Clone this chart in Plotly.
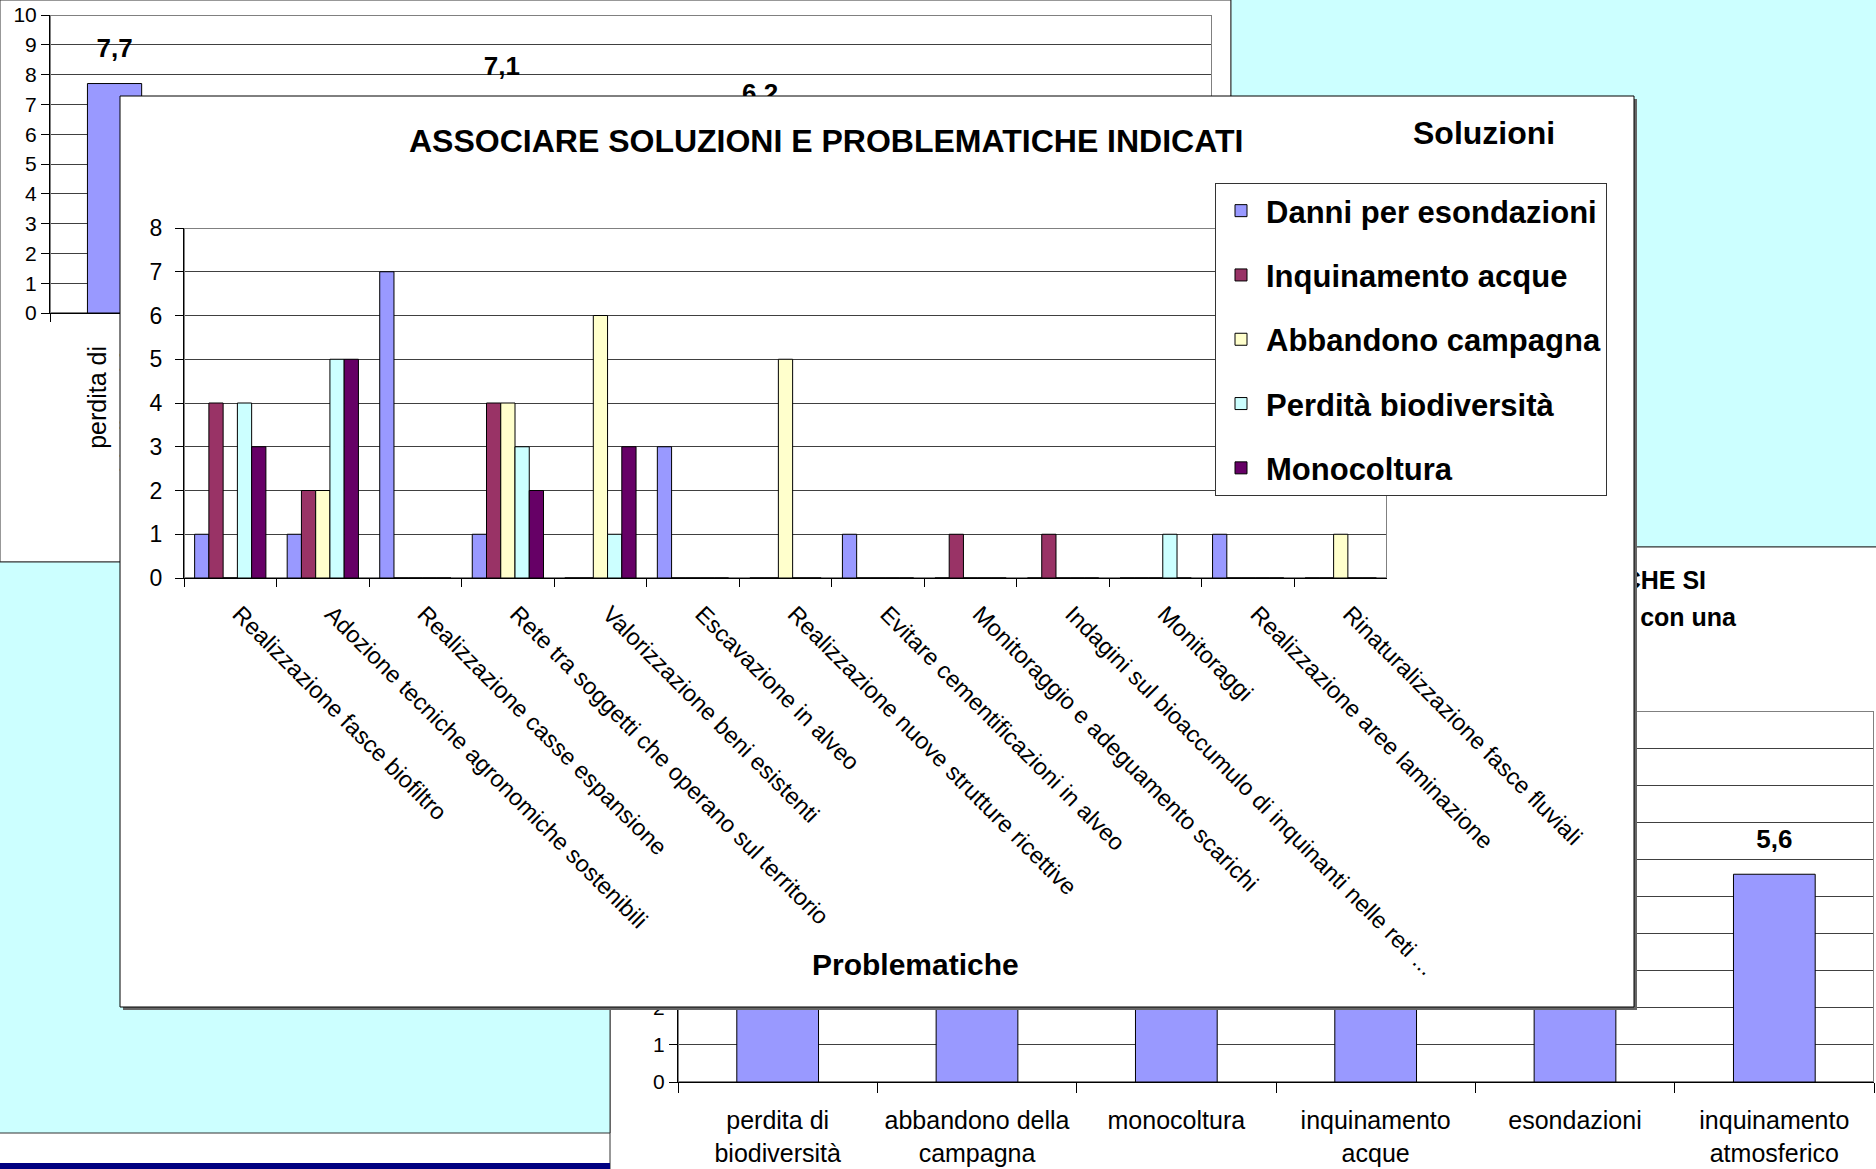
import plotly.graph_objects as go

W, H = 1876, 1169
FONT = "Liberation Sans, Arial, sans-serif"


def fx(x):
    return x / W


def fy(y):
    return 1 - y / H


# ---------------- main chart data ----------------
categories = [
    "Realizzazione fasce biofiltro",
    "Adozione tecniche agronomiche sostenibili",
    "Realizzazione casse espansione",
    "Rete tra soggetti che operano sul territorio",
    "Valorizzazione beni esistenti",
    "Escavazione in alveo",
    "Realizzazione nuove strutture ricettive",
    "Evitare cementificazioni in alveo",
    "Monitoraggio e adeguamento scarichi",
    "Indagini sul bioaccumulo di inquinanti nelle reti ...",
    "Monitoraggi",
    "Realizzazione aree laminazione",
    "Rinaturalizzazione fasce fluviali",
]
series_names = [
    "Danni per esondazioni",
    "Inquinamento acque",
    "Abbandono campagna",
    "Perdità biodiversità",
    "Monocoltura",
]
danni = [1, 1, 7, 1, 0, 3, 0, 1, 0, 0, 0, 1, 0]
inquinamento = [4, 2, 0, 4, 0, 0, 0, 0, 1, 1, 0, 0, 0]
abbandono = [0, 2, 0, 4, 6, 0, 5, 0, 0, 0, 0, 0, 1]
perdita = [4, 5, 0, 3, 1, 0, 0, 0, 0, 0, 1, 0, 0]
monocoltura = [3, 5, 0, 2, 3, 0, 0, 0, 0, 0, 0, 0, 0]
series_values = [danni, inquinamento, abbandono, perdita, monocoltura]
colors = ["#9999FF", "#993366", "#FFFFCC", "#CCFFFF", "#660066"]

# ---------------- background chart (top-left, mostly hidden) ----------------
tl_categories = [
    "perdita di<br>biodiversità",
    "abbandono della<br>campagna",
    "monocoltura",
    "inquinamento<br>acque",
    "esondazioni",
    "inquinamento<br>atmosferico",
    "cementificazione",
    "traffico",
    "rifiuti",
]
tl_values = [7.7, 3.8, 3.4, 7.1, 3.6, 6.2, 3.1, 2.8, 2.5]

# ---------------- background chart (bottom-right, partly hidden) ----------------
br_categories = [
    "perdita di<br>biodiversità",
    "abbandono della<br>campagna",
    "monocoltura",
    "inquinamento<br>acque",
    "esondazioni",
    "inquinamento<br>atmosferico",
]
br_values = [6.8, 6.3, 6.0, 6.9, 6.5, 5.6]
br_title_lines = ["QUALI SONO LE PROBLEMATICHE CHE SI", "RISCONTRANO? Rispondere con una"]

fig = go.Figure()

# top-left background chart
fig.add_trace(go.Bar(
    x=tl_categories, y=tl_values, width=0.42,
    marker=dict(color="#9999FF", line=dict(color="black", width=1)),
    xaxis="x", yaxis="y", showlegend=False, hoverinfo="skip"))
fig.add_trace(go.Scatter(
    x=tl_categories, y=tl_values, mode="markers+text",
    texttemplate="%{y:.1f}", textposition="top center",
    marker=dict(size=30, opacity=0),
    textfont=dict(family=FONT, size=26, color="black", weight="bold"),
    xaxis="x", yaxis="y", showlegend=False, hoverinfo="skip", cliponaxis=False))

# bottom-right background chart
fig.add_trace(go.Bar(
    x=br_categories, y=br_values, width=0.41,
    marker=dict(color="#9999FF", line=dict(color="black", width=1)),
    xaxis="x2", yaxis="y2", showlegend=False, hoverinfo="skip"))
fig.add_trace(go.Scatter(
    x=br_categories, y=br_values, mode="markers+text",
    texttemplate="%{y:.1f}", textposition="top center",
    marker=dict(size=30, opacity=0),
    textfont=dict(family=FONT, size=26, color="black", weight="bold"),
    xaxis="x2", yaxis="y2", showlegend=False, hoverinfo="skip", cliponaxis=False))

# bottom-right chart title (partly hidden behind the main chart)
fig.add_trace(go.Scatter(
    x=[1706, 1736], y=[583, 620], mode="text", text=br_title_lines,
    textposition="middle left",
    textfont=dict(family=FONT, size=25, color="black", weight="bold"),
    xaxis="x3", yaxis="y3", showlegend=False, hoverinfo="skip", cliponaxis=False))

# placeholder so that the white-panel subplot exists
fig.add_trace(go.Scatter(
    x=[None], y=[None], mode="markers", xaxis="x4", yaxis="y4",
    showlegend=False, hoverinfo="skip"))

# main chart
for name, vals, col in zip(series_names, series_values, colors):
    fig.add_trace(go.Bar(
        name=name, x=categories, y=vals, legendgroup=name,
        marker=dict(color=col, line=dict(color="black", width=1)),
        xaxis="x5", yaxis="y5", hoverinfo="x+y+name"))

n_tl, n_br, n_main = len(tl_categories), len(br_categories), len(categories)
tick_font = dict(family=FONT, size=21, color="black")

fig.update_layout(
    template="none",
    width=W, height=H, autosize=False,
    margin=dict(l=0, r=0, t=0, b=0, pad=0, autoexpand=False),
    paper_bgcolor="white", plot_bgcolor="rgba(0,0,0,0)",
    separators=",.",
    barmode="group", bargap=0.23, bargroupgap=0,
    font=dict(family=FONT, color="black"),
    showlegend=True,
    legend=dict(
        x=fx(1215), y=fy(183), xanchor="left", yanchor="top",
        bgcolor="white", bordercolor="#333333", borderwidth=1,
        font=dict(family=FONT, size=31, color="black", weight="bold"),
        traceorder="grouped", tracegroupgap=21, itemclick=False, itemwidth=40,
    ),
    # top-left background chart
    xaxis=dict(domain=[fx(50), fx(1212)], anchor="y", type="category", automargin=False,
               range=[-0.5, n_tl - 0.5],
               tickangle=-90, tickfont=dict(family=FONT, size=25, color="black"),
               ticks="outside", ticklen=8, ticklabelstandoff=22,
               tickson="boundaries", tickcolor="black", showline=True,
               linecolor="black", showgrid=False, fixedrange=True),
    yaxis=dict(domain=[fy(313), fy(15)], anchor="x", range=[0, 10], dtick=1, automargin=False,
               tickfont=tick_font, ticks="outside", ticklen=8, tickcolor="black",
               showline=True, linecolor="black", showgrid=True,
               gridcolor="#404040", zeroline=False, fixedrange=True),
    # bottom-right background chart
    xaxis2=dict(domain=[fx(678), fx(1874)], anchor="y2", type="category", automargin=False,
                range=[-0.5, n_br - 0.5],
                tickangle=0, tickfont=dict(family=FONT, size=25, color="black"),
                ticks="outside", ticklen=10, tickson="boundaries", tickcolor="black",
                ticklabelstandoff=16,
                showline=True, linecolor="black", showgrid=False, fixedrange=True),
    yaxis2=dict(domain=[fy(1082), fy(711)], anchor="x2", range=[0, 10], dtick=1, automargin=False,
                tickfont=tick_font, ticks="outside", ticklen=8, tickcolor="black",
                showline=True, linecolor="black", showgrid=True,
                gridcolor="#404040", zeroline=False, fixedrange=True),
    # text holder (pixel coordinates)
    xaxis3=dict(domain=[0, 1], anchor="y3", range=[0, W], visible=False, fixedrange=True, automargin=False),
    yaxis3=dict(domain=[0, 1], anchor="x3", range=[H, 0], visible=False, fixedrange=True, automargin=False),
    # white panel of the main chart (pixel coordinates)
    xaxis4=dict(domain=[fx(117), fx(1639)], anchor="y4", range=[117, 1639], visible=False,
                fixedrange=True, automargin=False),
    yaxis4=dict(domain=[fy(1012), fy(93)], anchor="x4", range=[1012, 93], visible=False,
                fixedrange=True, automargin=False),
    # main chart
    xaxis5=dict(domain=[fx(184), fx(1387)], anchor="y5", type="category", automargin=False,
                range=[-0.5, n_main - 0.5],
                tickangle=45, tickfont=dict(family=FONT, size=23.5, color="black"),
                ticks="outside", ticklen=8, tickson="boundaries", tickcolor="black",
                ticklabelstandoff=12, ticklabelshift=9,
                showline=True, linecolor="black", showgrid=False, fixedrange=True),
    yaxis5=dict(domain=[fy(578), fy(228)], anchor="x5", range=[0, 8], dtick=1, automargin=False,
                tickfont=dict(family=FONT, size=23, color="black"),
                ticks="outside", ticklen=8, tickcolor="black", ticklabelstandoff=8,
                showline=True, linecolor="black", showgrid=True,
                gridcolor="#404040", zeroline=False, fixedrange=True),
)

shapes = [
    # slide backgrounds
    dict(type="rect", xref="paper", yref="paper", x0=fx(0), x1=fx(1231), y0=fy(562), y1=fy(0),
         fillcolor="white", line=dict(color="#333333", width=1), layer="below"),
    dict(type="rect", xref="paper", yref="paper", x0=fx(1231), x1=fx(1877), y0=fy(547), y1=fy(-1),
         fillcolor="#CCFFFF", line=dict(color="#333333", width=1), layer="below"),
    dict(type="rect", xref="paper", yref="paper", x0=fx(610), x1=fx(1877), y0=fy(1170), y1=fy(547),
         fillcolor="white", line=dict(color="#333333", width=1), layer="below"),
    dict(type="rect", xref="paper", yref="paper", x0=fx(-1), x1=fx(610), y0=fy(1133), y1=fy(562),
         fillcolor="#CCFFFF", line=dict(color="#333333", width=1), layer="below"),
    dict(type="rect", xref="paper", yref="paper", x0=fx(0), x1=fx(610), y0=fy(1169), y1=fy(1163),
         fillcolor="#000080", line=dict(width=0), layer="below"),
    # plot-area borders (gray)
    dict(type="rect", xref="x", yref="y", x0=-0.5, x1=n_tl - 0.5, y0=0, y1=10,
         line=dict(color="#808080", width=2), layer="between"),
    dict(type="rect", xref="x2", yref="y2", x0=-0.5, x1=n_br - 0.5, y0=0, y1=10,
         line=dict(color="#808080", width=2), layer="between"),
    # main chart panel (shadow + white) covering the background charts
    dict(type="rect", xref="x4", yref="y4", x0=123, x1=1637, y0=99, y1=1010,
         fillcolor="#666666", line=dict(width=0), layer="between"),
    dict(type="rect", xref="x4", yref="y4", x0=120, x1=1634, y0=96, y1=1007,
         fillcolor="white", line=dict(color="black", width=1), layer="between"),
    dict(type="rect", xref="x5", yref="y5", x0=-0.5, x1=n_main - 0.5, y0=0, y1=8,
         line=dict(color="#808080", width=2), layer="between"),
]
fig.update_layout(shapes=shapes)

fig.add_annotation(text="ASSOCIARE SOLUZIONI E PROBLEMATICHE INDICATI",
                   x=fx(826), y=fy(141), xref="paper", yref="paper", showarrow=False,
                   xanchor="center", yanchor="middle",
                   font=dict(family=FONT, size=32, color="black", weight="bold"))
fig.add_annotation(text="Soluzioni", x=fx(1484), y=fy(133), xref="paper", yref="paper",
                   showarrow=False, xanchor="center", yanchor="middle",
                   font=dict(family=FONT, size=32, color="black", weight="bold"))
fig.add_annotation(text="Problematiche", x=fx(915), y=fy(964), xref="paper", yref="paper",
                   showarrow=False, xanchor="center", yanchor="middle",
                   font=dict(family=FONT, size=30, color="black", weight="bold"))

fig.write_html("out.html", include_plotlyjs=True,
               config={"displayModeBar": False, "responsive": False},
               post_script="document.body.style.margin='0';")
